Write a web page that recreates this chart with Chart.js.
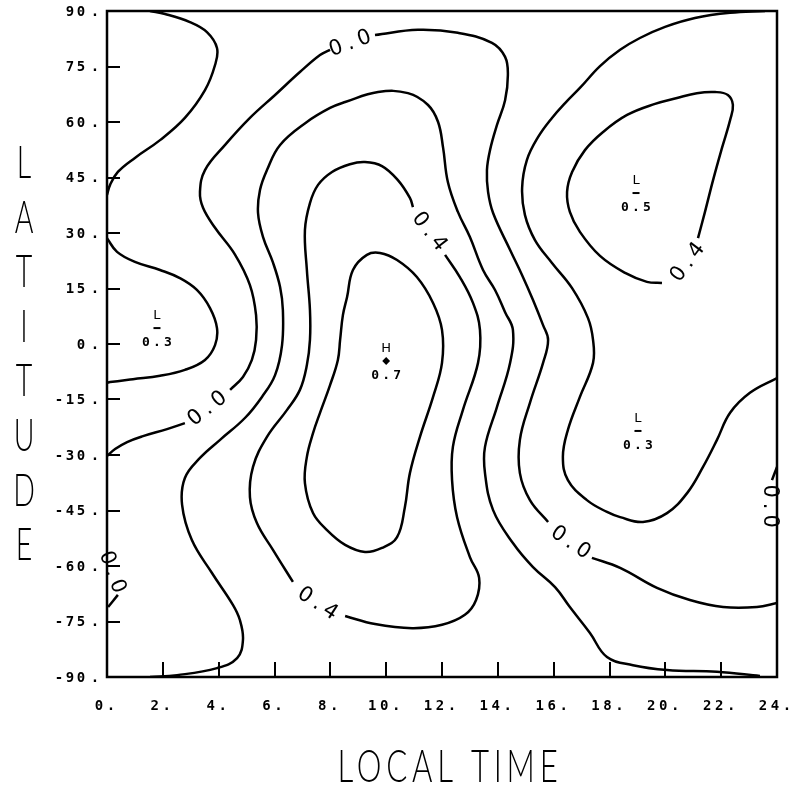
<!DOCTYPE html>
<html>
<head>
<meta charset="utf-8">
<script src="https://cdn.jsdelivr.net/npm/chart.js@4.4.1/dist/chart.umd.min.js"></script>
<style>
  html, body { margin: 0; padding: 0; background: #fff; }
  #wrap { width: 791px; height: 788px; }
</style>
</head>
<body>
<div id="wrap"><canvas id="contourChart" width="791" height="788"></canvas></div>
<script>
// axis ticks
const xTicks = [0, 2, 4, 6, 8, 10, 12, 14, 16, 18, 20, 22, 24];
const yTicks = [90, 75, 60, 45, 30, 15, 0, -15, -30, -45, -60, -75, -90];

// contour lines: local time (h) and latitude (deg)
// top-left lobe
const c1Time = [1.54, 2.08, 2.97, 3.58, 3.94, 3.87, 3.51, 2.79, 1.90, 1.00, 0.39, 0.11, 0];
const c1Lat  = [90, 89.2, 87.0, 84.3, 80.0, 75.4, 68.6, 61.1, 55.1, 50.3, 46.5, 43.0, 40.3];
// lobe round the left low
const c2Time = [0, 0.36, 1.00, 1.90, 2.61, 3.22, 3.69, 3.94, 3.87, 3.51, 2.79, 1.90, 0.93, 0.11, 0];
const c2Lat  = [28.6, 24.9, 22.2, 20.0, 17.8, 14.6, 9.7, 4.3, -0.3, -4.3, -7.0, -8.6, -9.5, -10.3, -10.5];
// the long 0.0 line, in pieces between its labels
const c3aTime = [0, 0.29, 0.72, 1.29, 2.15, 2.79];
const c3aLat  = [-30.3, -28.4, -26.5, -24.9, -23.0, -21.4];
const c3bTime = [4.41, 4.87, 5.19, 5.34, 5.34, 5.12, 4.59, 3.87, 3.44, 3.33, 3.51, 4.23, 5.12, 6.02, 6.91, 7.63, 7.99];
const c3bLat  = [-12.4, -8.9, -4.3, 1.1, 7.8, 15.9, 24.1, 31.4, 36.8, 41.1, 47.0, 53.8, 61.1, 67.3, 73.5, 78.1, 79.5];
const c3cTime = [9.60, 11.14, 12.57, 13.79, 14.26, 14.36, 14.26, 13.97, 13.72, 13.61, 13.65, 13.83, 14.44, 14.87, 15.26, 15.62, 15.80, 15.62, 15.15, 14.79, 14.79, 15.15, 15.80];
const c3cLat  = [83.5, 84.9, 84.1, 81.4, 77.6, 72.7, 65.9, 59.2, 52.4, 47.0, 41.1, 35.4, 25.4, 18.6, 11.9, 5.1, 1.1, -5.1, -15.9, -25.9, -34.9, -42.2, -48.1];
const c3dTime = [17.37, 18.38, 19.70, 20.88, 22.07, 23.28, 24];
const c3dLat  = [-57.8, -60.5, -65.9, -69.2, -71.1, -71.1, -70.0];
// second line, bottom edge to bottom edge
const c4Time = [1.54, 2.51, 3.94, 4.66, 4.87, 4.76, 4.51, 3.76, 3.04, 2.69, 2.79, 3.33, 4.05, 4.94, 5.55, 6.02, 6.27, 6.30, 6.20, 5.95,
                5.59, 5.41, 5.48, 5.73, 6.20, 7.16, 7.99, 8.53, 9.71, 10.78, 11.50, 11.86, 12.04, 12.21, 12.57, 13.00, 13.47, 13.90, 14.26, 14.54,
                14.44, 13.97, 13.54, 13.54, 13.83, 14.54, 15.26, 16.05, 16.58, 17.30, 17.91, 18.84, 20.06, 21.85, 23.39];
const c4Lat  = [-90, -89.5, -87.6, -84.9, -80.0, -74.6, -70.5, -61.9, -53.0, -43.5, -36.2, -30.8, -25.9, -20.0, -14.3, -8.4, -0.3, 9.2, 15.4, 21.9,
                28.9, 35.4, 41.6, 47.0, 53.8, 60.0, 63.8, 65.4, 68.1, 67.8, 64.6, 60.0, 53.0, 43.8, 35.7, 28.9, 20.0, 14.6, 8.6, 3.8,
                -5.1, -17.0, -27.8, -34.9, -44.9, -53.8, -60.3, -65.7, -71.1, -78.1, -84.6, -86.8, -88.1, -88.6, -89.7];
// 0.4 loop, two pieces
const c5aTime = [6.66, 5.95, 5.37, 5.12, 5.23, 5.73, 6.45, 6.91, 7.16, 7.27, 7.27, 7.16, 7.09, 7.27, 7.56, 8.06, 8.70, 9.24, 9.85, 10.42, 10.85, 10.96];
const c5aLat  = [-64.3, -55.7, -48.4, -41.4, -33.2, -25.1, -17.8, -12.4, -5.7, 1.1, 9.2, 20.0, 30.8, 38.1, 43.0, 46.5, 48.6, 49.2, 48.1, 44.3, 39.5, 37.0];
const c5bTime = [12.11, 12.64, 13.11, 13.36, 13.29, 12.75, 12.39, 12.36, 12.54, 13.00, 13.33, 13.22, 12.82, 12.00, 10.93, 9.60, 8.53];
const c5bLat  = [24.1, 18.1, 11.1, 3.8, -5.1, -17.8, -27.8, -36.8, -46.8, -57.6, -63.2, -69.2, -73.2, -75.9, -76.8, -75.7, -73.5];
// top edge to right edge, round the lower right low
const c6Time = [23.57, 22.32, 21.06, 19.99, 19.09, 18.38, 17.66, 16.94, 16.41, 15.94, 15.44, 15.04, 14.87, 14.97, 15.33, 15.94, 16.66, 17.23, 17.41, 17.41,
                16.94, 16.51, 16.33, 16.51, 17.19, 17.91, 18.38, 19.20, 20.06, 20.78, 21.35, 21.85, 22.32, 23.03, 24];
const c6Lat  = [90, 89.5, 88.1, 85.7, 82.7, 79.5, 75.1, 69.2, 65.1, 61.1, 55.9, 49.7, 42.2, 34.9, 28.1, 21.9, 15.1, 7.0, 1.1, -5.1,
                -14.3, -23.2, -30.5, -36.8, -42.2, -45.4, -46.8, -48.1, -45.7, -40.3, -33.2, -25.9, -18.6, -13.2, -9.2];
// innermost loop round the high
const c7Time = [8.35, 8.45, 8.60, 8.81, 9.31, 9.78, 10.39, 11.10, 11.68, 12.00, 12.00, 11.68, 11.21, 10.85, 10.67, 10.39, 9.85, 9.24, 8.53, 7.88,
                7.38, 7.09, 7.16, 7.38, 7.63, 7.99, 8.27, 8.35];
const c7Lat  = [1.1, 7.8, 12.7, 20.0, 24.1, 24.6, 22.7, 18.1, 11.1, 3.8, -5.1, -14.3, -25.1, -34.9, -44.1, -52.2, -55.1, -56.2, -54.3, -50.3,
                -45.7, -37.6, -30.5, -24.1, -18.6, -11.1, -4.3, 1.1];
// 0.4 loop round the upper right low
const c8Time = [21.17, 21.42, 21.71, 22.03, 22.32, 22.42, 22.24, 21.78, 21.13, 20.42, 19.63, 18.63, 17.77, 17.12, 16.66, 16.48, 16.58, 16.94, 17.66, 18.56, 19.34, 19.88];
const c8Lat  = [28.6, 35.7, 44.3, 53.0, 60.5, 64.6, 67.3, 68.1, 67.8, 66.5, 64.9, 61.9, 57.3, 52.4, 46.5, 41.1, 35.7, 30.3, 23.8, 19.2, 16.8, 16.5];
// short stubs by the side labels
const leftStubTime = [0.39, 0.04];
const leftStubLat  = [-67.8, -71.1];
const rightStubTime = [23.82, 24];
const rightStubLat  = [-36.8, -33.2];

// highs and lows
const extTime  = [1.79, 10.0, 18.95, 19.02];
const extLat   = [4.3, -4.6, 40.8, -23.5];
const extKind  = ['L', 'H', 'L', 'L'];
const extValue = ['0.3', '0.7', '0.5', '0.3'];

// contour labels
const labelText  = ['0.0', '0.0', '0.4', '0.4', '0.0', '0.4', '0.0', '0.0'];
const labelTime  = [8.70, 3.58, 11.57, 7.56, 16.62, 20.78, 23.78, 0.21];
const labelLat   = [81.4, -17.3, 30.5, -70.0, -53.5, 22.2, -43.8, -61.6];
const labelAngle = [-20, -38, 52, 33, 34, -53, 90, 70];

const pts = (ts, ls) => ts.map((t, i) => ({ x: t, y: ls[i] }));

const lines = [
  [c1Time, c1Lat], [c2Time, c2Lat],
  [c3aTime, c3aLat], [c3bTime, c3bLat], [c3cTime, c3cLat], [c3dTime, c3dLat],
  [c4Time, c4Lat], [c5aTime, c5aLat], [c5bTime, c5bLat],
  [c6Time, c6Lat], [c7Time, c7Lat], [c8Time, c8Lat],
  [leftStubTime, leftStubLat], [rightStubTime, rightStubLat]
];

const datasets = lines.map(([ts, ls]) => ({
  data: pts(ts, ls),
  showLine: true,
  borderColor: '#000',
  borderWidth: 2.5,
  pointRadius: 0,
  tension: 0.4,
  fill: false
}));

datasets.push({
  data: pts(extTime, extLat),
  showLine: false,
  pointStyle: extKind.map(k => k === 'H' ? 'rectRot' : 'line'),
  pointRadius: extKind.map(k => k === 'H' ? 2.5 : 3.5),
  borderColor: '#000',
  backgroundColor: '#000',
  borderWidth: 2
});

function spaced(ctx, text, cx, cy, adv) {
  const start = cx - adv * (text.length - 1) / 2;
  for (let i = 0; i < text.length; i++) ctx.fillText(text[i], start + adv * i, cy);
}

const decor = {
  id: 'decor',
  afterDatasetsDraw(chart) {
    const { ctx, chartArea: a, scales: { x, y } } = chart;
    ctx.save();
    ctx.strokeStyle = '#000';
    ctx.fillStyle = '#000';
    ctx.lineWidth = 2.5;
    ctx.strokeRect(a.left, a.top, a.right - a.left, a.bottom - a.top);

    // ticks point into the plot
    ctx.lineWidth = 2;
    ctx.beginPath();
    yTicks.forEach(v => {
      if (v === 90 || v === -90) return;
      const py = Math.round(y.getPixelForValue(v));
      ctx.moveTo(a.left, py); ctx.lineTo(a.left + 13, py);
    });
    xTicks.forEach(v => {
      if (v === 0 || v === 24) return;
      const px = Math.round(x.getPixelForValue(v));
      ctx.moveTo(px, a.bottom); ctx.lineTo(px, a.bottom - 15);
    });
    ctx.stroke();

    // tick labels
    ctx.font = 'bold 14px "DejaVu Sans Mono"';
    ctx.textAlign = 'center';
    ctx.textBaseline = 'middle';
    yTicks.forEach(v => {
      const py = y.getPixelForValue(v) + 1;
      const s = String(v);
      ctx.fillText('.', a.left - 12, py);
      for (let i = 0; i < s.length; i++) {
        ctx.fillText(s[s.length - 1 - i], a.left - 26 - 11 * i, py);
      }
    });
    xTicks.forEach(v => {
      const px = x.getPixelForValue(v);
      spaced(ctx, v + '.', px - 2, a.bottom + 29, 12);
    });

    // contour labels
    ctx.font = '21px "Liberation Sans Narrow", "DejaVu Sans"';
    labelText.forEach((txt, i) => {
      ctx.save();
      ctx.translate(x.getPixelForValue(labelTime[i]), y.getPixelForValue(labelLat[i]));
      ctx.rotate(labelAngle[i] * Math.PI / 180);
      spaced(ctx, txt, 0, 1, 15);
      ctx.restore();
    });

    // highs and lows
    extKind.forEach((k, i) => {
      const px = x.getPixelForValue(extTime[i]);
      const py = y.getPixelForValue(extLat[i]);
      ctx.font = '13px "DejaVu Sans"';
      ctx.fillText(k, px, py - 12);
      ctx.font = 'bold 13px "DejaVu Sans Mono"';
      spaced(ctx, extValue[i], px, py + 15, 11);
    });

    // axis titles
    ctx.font = '300 46px Lato, "DejaVu Sans"';
    ctx.textBaseline = 'alphabetic';
    const letters = 'LATITUDE';
    for (let i = 0; i < letters.length; i++) {
      ctx.save();
      ctx.translate(24, 178 + 54.6 * i);
      ctx.scale(0.62, 1);
      ctx.fillText(letters[i], 0, 0);
      ctx.restore();
    }
    ctx.save();
    ctx.translate(450, 782);
    ctx.letterSpacing = '7px';
    const w = ctx.measureText('LOCAL TIME').width;
    ctx.scale(225 / w, 1);
    ctx.fillText('LOCAL TIME', 0, 0);
    ctx.restore();

    ctx.restore();
  }
};

new Chart(document.getElementById('contourChart'), {
  type: 'scatter',
  data: { datasets },
  options: {
    responsive: false,
    animation: false,
    devicePixelRatio: 1,
    layout: { padding: { left: 107, top: 11, right: 14, bottom: 111 } },
    plugins: { legend: { display: false }, tooltip: { enabled: false } },
    scales: {
      x: { type: 'linear', min: 0, max: 24, display: false },
      y: { type: 'linear', min: -90, max: 90, display: false }
    }
  },
  plugins: [decor]
});
</script>
</body>
</html>
